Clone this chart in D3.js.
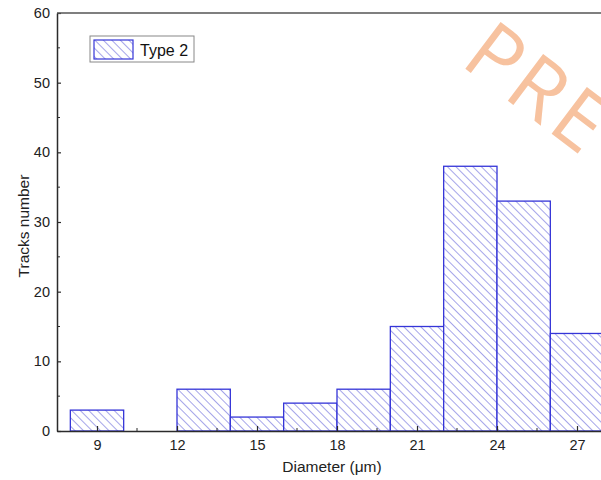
<!DOCTYPE html>
<html>
<head>
<meta charset="utf-8">
<script src="https://cdn.jsdelivr.net/npm/d3@7"></script>
<style>
  html, body { margin: 0; padding: 0; background: #fff; }
  svg { display: block; font-family: Arial, "Liberation Sans", sans-serif; }
</style>
</head>
<body>
<svg id="chart" width="601" height="480"></svg>
<script>
// Histogram bins (left edge, right edge) and counts
const binStart = [8, 12, 14, 16, 18, 20, 22, 24, 26];
const binEnd   = [10, 14, 16, 18, 20, 22, 24, 26, 28];
const counts   = [3, 6, 2, 4, 6, 15, 38, 33, 14];
const xTicks = [9, 12, 15, 18, 21, 24, 27];
const xMinor = [10.5, 13.5, 16.5, 19.5, 22.5, 25.5, 28.5];
const yTicks = [0, 10, 20, 30, 40, 50, 60];
const yMinor = [5, 15, 25, 35, 45, 55];
const seriesName = "Type 2";

const svg = d3.select("#chart");
const plotLeft = 57, plotTop = 13, plotBottom = 431;
const pxPerUnit = 80 / 3;

const x = d3.scaleLinear().domain([7.5, 30]).range([plotLeft, plotLeft + 22.5 * pxPerUnit]);
const y = d3.scaleLinear().domain([0, 60]).range([plotBottom, plotTop]);

const blue = "#3535d8";
const axisColor = "#2b2b2b";
const font = "Arial, 'Liberation Sans', sans-serif";

// Diagonal hatch fill
const defs = svg.append("defs");
const pat = defs.append("pattern")
  .attr("id", "hatch")
  .attr("patternUnits", "userSpaceOnUse")
  .attr("width", 6).attr("height", 6)
  .attr("patternTransform", "rotate(-45)");
pat.append("rect").attr("width", 6).attr("height", 6).attr("fill", "#fff");
pat.append("line")
  .attr("x1", 0).attr("y1", 0).attr("x2", 0).attr("y2", 6)
  .attr("stroke", "#5a5ad8").attr("stroke-width", 1.1);

// Bars
const data = counts.map((c, i) => ({ x0: binStart[i], x1: binEnd[i], n: c }));
svg.append("g").selectAll("rect").data(data).join("rect")
  .attr("x", d => x(d.x0))
  .attr("y", d => y(d.n))
  .attr("width", d => x(d.x1) - x(d.x0))
  .attr("height", d => y(0) - y(d.n))
  .attr("fill", "url(#hatch)")
  .attr("stroke", blue)
  .attr("stroke-width", 1.3);

// Axes (ticks pointing inward)
const xAxis = d3.axisBottom(x).tickValues(xTicks).tickSize(-5).tickPadding(9).tickSizeOuter(0);
const gx = svg.append("g").attr("transform", `translate(0,${plotBottom})`).call(xAxis);
gx.select(".domain").attr("stroke", axisColor).attr("stroke-width", 1.5);
gx.selectAll(".tick line").attr("stroke", axisColor).attr("stroke-width", 1.2);
gx.selectAll(".tick text").attr("font-size", 14.5).attr("fill", "#222").attr("font-family", font);
svg.append("g").selectAll("line").data(xMinor).join("line")
  .attr("x1", d => x(d)).attr("x2", d => x(d))
  .attr("y1", plotBottom).attr("y2", plotBottom - 3)
  .attr("stroke", axisColor).attr("stroke-width", 1);

const yAxis = d3.axisLeft(y).tickValues(yTicks).tickSize(-4).tickPadding(7).tickSizeOuter(0);
const gy = svg.append("g").attr("transform", `translate(${plotLeft},0)`).call(yAxis);
gy.select(".domain").attr("stroke", axisColor).attr("stroke-width", 1.5);
gy.selectAll(".tick line").attr("stroke", axisColor).attr("stroke-width", 1.2);
gy.selectAll(".tick text").attr("font-size", 14.5).attr("fill", "#222").attr("font-family", font);
svg.append("g").selectAll("line").data(yMinor).join("line")
  .attr("x1", plotLeft).attr("x2", plotLeft + 3)
  .attr("y1", d => y(d)).attr("y2", d => y(d))
  .attr("stroke", axisColor).attr("stroke-width", 1);

// Top frame
svg.append("line")
  .attr("x1", plotLeft).attr("x2", 601)
  .attr("y1", y(60)).attr("y2", y(60))
  .attr("stroke", "#555").attr("stroke-width", 1.5);

// Axis titles
svg.append("text")
  .attr("x", 332).attr("y", 472)
  .attr("text-anchor", "middle")
  .attr("font-size", 15.5).attr("fill", "#222")
  .text("Diameter (μm)");
svg.append("text")
  .attr("transform", `translate(29,226) rotate(-90)`)
  .attr("text-anchor", "middle")
  .attr("font-size", 15.5).attr("fill", "#222")
  .text("Tracks number");

// Legend
const lg = svg.append("g").attr("transform", "translate(90,36)");
lg.append("rect").attr("width", 104).attr("height", 26)
  .attr("fill", "#fff").attr("stroke", "#888").attr("stroke-width", 1);
lg.append("rect").attr("x", 4).attr("y", 4).attr("width", 39).attr("height", 19)
  .attr("fill", "url(#hatch)").attr("stroke", blue).attr("stroke-width", 1.2);
lg.append("text").attr("x", 50).attr("y", 19.5)
  .attr("font-size", 16).attr("fill", "#111").text(seriesName);

// Watermark
svg.append("text")
  .attr("transform", "translate(459,64) rotate(37)")
  .attr("font-size", 82)
  .attr("letter-spacing", 4)
  .attr("font-family", "'Open Sans', 'DejaVu Sans', sans-serif")
  .attr("fill", "#f7c29f")
  .text("PREVIEW");
</script>
</body>
</html>
